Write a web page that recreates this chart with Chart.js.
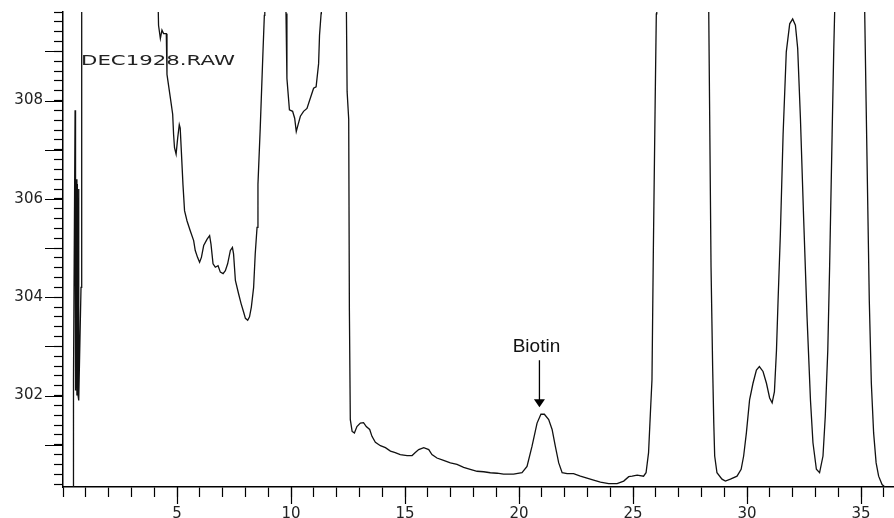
<!DOCTYPE html>
<html>
<head>
<meta charset="utf-8">
<script src="https://cdn.jsdelivr.net/npm/chart.js@4.4.1/dist/chart.umd.min.js"></script>
<style>
  html, body { margin: 0; padding: 0; background: #fff; }
</style>
</head>
<body>
<canvas id="myChart" width="894" height="518"></canvas>
<script>
// retention time (min) and detector signal
const times = [
  0.44, 0.44, 0.48, 0.53, 0.55, 0.58, 0.61, 0.63, 0.66, 0.68, 0.70, 0.79, 0.82,
  4.15, 4.19, 4.27, 4.34, 4.41, 4.53, 4.56, 4.71, 4.81, 4.85, 4.89, 4.96, 5.03, 5.10, 5.14, 5.19,
  5.26, 5.33, 5.44, 5.58, 5.73, 5.80, 5.90, 5.99, 6.07, 6.17, 6.32, 6.43, 6.49, 6.58, 6.68, 6.80,
  6.90, 7.02, 7.12, 7.22, 7.34, 7.43, 7.48, 7.56, 7.70, 7.81, 7.92, 8.00, 8.10, 8.18, 8.26, 8.36,
  8.43, 8.51, 8.55, 8.65, 8.77, 8.83, 8.85,
  9.77, 9.78, 9.82, 9.93, 10.07, 10.16, 10.23, 10.31, 10.41, 10.55, 10.70, 10.82, 10.99, 11.10,
  11.21, 11.25, 11.32, 11.33,
  12.42, 12.43, 12.46, 12.53, 12.56, 12.60, 12.68, 12.78, 12.89, 13.04, 13.18, 13.30, 13.45, 13.55,
  13.70, 13.92, 14.14, 14.36, 14.57, 14.79, 15.09, 15.31, 15.45, 15.60, 15.82, 16.04, 16.18, 16.40,
  16.69, 16.99, 17.28, 17.57, 17.86, 18.16, 18.45, 18.74, 19.04, 19.32, 19.62, 19.76, 20.13, 20.35,
  20.57, 20.79, 20.96, 21.11, 21.30, 21.45, 21.59, 21.74, 21.89, 22.11, 22.39, 22.69, 22.98, 23.27,
  23.57, 23.93, 24.30, 24.59, 24.81, 24.96, 25.18, 25.46, 25.57, 25.68, 25.76, 25.83, 25.89, 25.97,
  26.02, 26.04,
  28.30, 28.32, 28.36, 28.42, 28.49, 28.54, 28.58, 28.68, 28.90, 29.05, 29.27, 29.56, 29.74, 29.85,
  29.97, 30.11, 30.26, 30.41, 30.54, 30.70, 30.85, 30.99, 31.10, 31.20, 31.29, 31.36, 31.46, 31.58,
  31.72, 31.87, 32.00, 32.12, 32.22, 32.34, 32.48, 32.63, 32.78, 32.89, 33.04, 33.18, 33.33, 33.43,
  33.54, 33.62, 33.73, 33.80, 33.84, 33.86,
  35.14, 35.16, 35.22, 35.29, 35.36, 35.45, 35.55, 35.66, 35.77, 35.92, 36.07
];
const signal = [
  299.9, 302.01, 302.3, 307.8, 302.1, 306.4, 302.0, 306.3, 302.0, 306.2, 301.9, 304.2, 311,
  310.5, 309.53, 309.26, 309.43, 309.36, 309.36, 308.53, 308.05, 307.72, 307.31, 307.04, 306.91,
  307.24, 307.51, 307.44, 306.97, 306.30, 305.76, 305.55, 305.35, 305.15, 304.95, 304.81, 304.71,
  304.81, 305.05, 305.18, 305.25, 305.08, 304.68, 304.61, 304.64, 304.51, 304.48, 304.54, 304.68,
  304.95, 305.01, 304.88, 304.34, 304.07, 303.87, 303.70, 303.57, 303.53, 303.60, 303.80, 304.20,
  304.88, 305.42, 306.30, 307.44, 308.99, 309.73, 310.5,
  310.5, 309.77, 308.45, 307.81, 307.78, 307.64, 307.37, 307.51, 307.68, 307.78, 307.84, 308.01,
  308.25, 308.28, 308.75, 309.33, 309.77, 310.5,
  310.5, 309.77, 308.18, 307.62, 303.73, 301.51, 301.27, 301.24, 301.37, 301.44, 301.45, 301.37,
  301.31, 301.17, 301.05, 300.98, 300.94, 300.87, 300.84, 300.80, 300.78, 300.78, 300.84, 300.90,
  300.94, 300.90, 300.80, 300.73, 300.68, 300.63, 300.60, 300.54, 300.50, 300.46, 300.45, 300.43,
  300.42, 300.40, 300.40, 300.40, 300.43, 300.56, 300.97, 301.44, 301.62, 301.62, 301.51, 301.31,
  300.97, 300.63, 300.43, 300.41, 300.41, 300.36, 300.32, 300.28, 300.24, 300.21, 300.21, 300.26,
  300.35, 300.36, 300.38, 300.36, 300.43, 300.84, 301.64, 302.32, 304.95, 307.98, 309.76, 310.5,
  310.5, 309.77, 307.71, 304.61, 302.59, 301.44, 300.77, 300.43, 300.30, 300.26, 300.30, 300.36,
  300.50, 300.77, 301.24, 301.91, 302.25, 302.52, 302.59, 302.49, 302.25, 301.95, 301.85, 302.08,
  302.92, 303.94, 305.28, 307.31, 308.99, 309.56, 309.66, 309.53, 309.06, 307.64, 305.62, 303.60,
  301.91, 301.04, 300.50, 300.43, 300.77, 301.58, 302.92, 304.61, 307.31, 308.99, 309.77, 310.5,
  310.5, 309.77, 307.98, 305.96, 303.94, 302.25, 301.24, 300.63, 300.36, 300.19, 300.13
];
const xTickLabels = [5, 10, 15, 20, 25, 30, 35];
const yTickLabels = [302, 304, 306, 308];
const fileLabel = 'DEC1928.RAW';
const peakName = 'Biotin';

const points = times.map((t, i) => ({ x: t, y: signal[i] }));

// long ticks, file name and the peak arrow
const extraMarks = {
  id: 'extraMarks',
  afterDraw(chart) {
    const { ctx, chartArea, scales: { x, y } } = chart;
    ctx.save();
    ctx.strokeStyle = '#000';
    ctx.lineWidth = 1.2;
    ctx.beginPath();
    for (let v = Math.ceil(y.min); v <= y.max; v++) {
      const py = Math.round(y.getPixelForValue(v)) + 0.5;
      ctx.moveTo(chartArea.left - 18, py);
      ctx.lineTo(chartArea.left, py);
    }
    for (let v = 5; v <= x.max; v += 5) {
      const px = Math.round(x.getPixelForValue(v)) + 0.5;
      ctx.moveTo(px, chartArea.bottom);
      ctx.lineTo(px, chartArea.bottom + 17);
    }
    ctx.stroke();

    // file name, wide face
    ctx.fillStyle = '#222';
    ctx.font = '14px "DejaVu Sans"';
    ctx.textBaseline = 'alphabetic';
    ctx.save();
    ctx.translate(chartArea.left + 18, chartArea.top + 53);
    ctx.scale(1.52, 1);
    ctx.fillText(fileLabel, 0, 0);
    ctx.restore();

    // find the biotin peak in the data
    let best = -1;
    times.forEach((t, i) => {
      if (t > 20 && t < 22 && (best < 0 || signal[i] > signal[best])) best = i;
    });
    const px = x.getPixelForValue(times[best]) - 1.5;
    const py = y.getPixelForValue(signal[best]);
    ctx.beginPath();
    ctx.lineWidth = 1.3;
    ctx.moveTo(px, py - 54);
    ctx.lineTo(px, py - 12);
    ctx.stroke();
    ctx.beginPath();
    ctx.moveTo(px - 5.5, py - 15);
    ctx.lineTo(px + 5.5, py - 15);
    ctx.lineTo(px, py - 7);
    ctx.closePath();
    ctx.fillStyle = '#000';
    ctx.fill();
    ctx.font = '19px "Liberation Sans"';
    ctx.textAlign = 'center';
    ctx.fillStyle = '#111';
    ctx.fillText(peakName, px - 3, py - 62);
    ctx.restore();
  }
};

const config = {
  type: 'line',
  data: {
    datasets: [{
      data: points,
      borderColor: '#111',
      borderWidth: 1.3,
      pointRadius: 0,
      tension: 0,
      fill: false
    }]
  },
  options: {
    responsive: false,
    animation: false,
    devicePixelRatio: 1,
    layout: { padding: { top: 12, right: 1, left: 0, bottom: 0 } },
    plugins: {
      legend: { display: false },
      tooltip: { enabled: false }
    },
    scales: {
      x: {
        type: 'linear',
        min: 0,
        max: 36.4,
        afterFit(scale) { scale.height = 31; scale.paddingLeft = 0; scale.paddingRight = 0; },
        border: { display: true, color: '#000', width: 1.5 },
        grid: { drawOnChartArea: false, drawTicks: true, tickLength: 10, tickColor: '#000', tickWidth: 1.2 },
        ticks: {
          stepSize: 1,
          includeBounds: false,
          autoSkip: false,
          maxRotation: 0,
          padding: 8,
          color: '#222',
          font: { family: 'DejaVu Sans', size: 15 },
          callback: (v) => xTickLabels.includes(Math.round(v)) && Math.abs(v - Math.round(v)) < 1e-6 ? String(Math.round(v)) : ''
        }
      },
      y: {
        min: 300.14,
        max: 309.8,
        afterFit(scale) { scale.width = 63; scale.paddingTop = 0; scale.paddingBottom = 0; },
        border: { display: true, color: '#000', width: 1.5 },
        grid: { drawOnChartArea: false, drawTicks: true, tickLength: 9, tickColor: '#000', tickWidth: 1.2 },
        ticks: {
          stepSize: 0.2,
          includeBounds: false,
          autoSkip: false,
          padding: 11,
          color: '#222',
          font: { family: 'DejaVu Sans', size: 15 },
          callback: (v) => {
            const r = Math.round(v);
            return Math.abs(v - r) < 1e-6 && yTickLabels.includes(r) ? String(r) : '';
          }
        }
      }
    }
  },
  plugins: [extraMarks]
};

const myChart = new Chart(document.getElementById('myChart'), config);
</script>
</body>
</html>
